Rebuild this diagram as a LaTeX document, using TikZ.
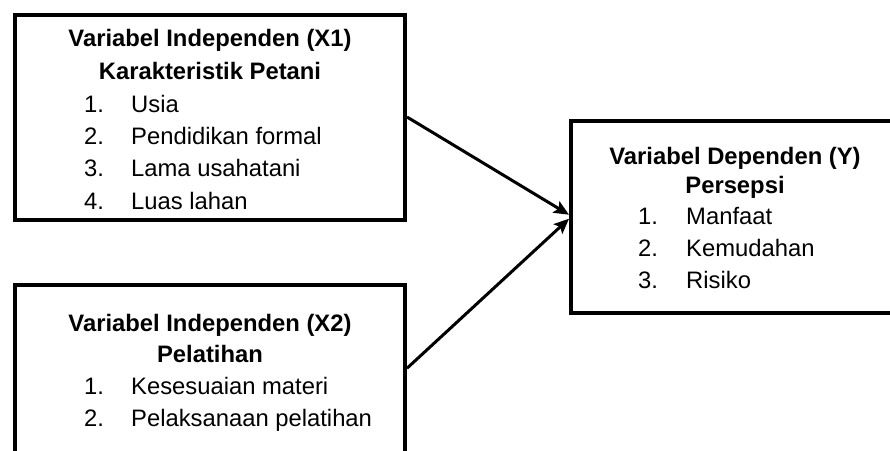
\documentclass[tikz,border=0pt]{standalone}
\usepackage{fontspec}
\setmainfont{Liberation Sans}
\usetikzlibrary{arrows.meta}
\begin{document}
\begin{tikzpicture}[x=1pt,y=-1pt,
  varbox/.style={draw, line width=4pt, rectangle, inner sep=0pt},
  head/.style={anchor=base, inner sep=0pt, font=\fontsize{23.8}{28}\selectfont\bfseries},
  num/.style={anchor=base west, inner sep=0pt, font=\fontsize{23.8}{28}\selectfont},
  itemtext/.style={anchor=base west, inner sep=0pt, font=\fontsize{23.8}{28}\selectfont},
  conn/.style={line width=3pt, -{Stealth[length=15pt,width=13pt,inset=3pt]}}]
\useasboundingbox (0,0) rectangle (890,450);
\clip (0,0) rectangle (890,450);

% boxes
\node[varbox, minimum width=390pt, minimum height=205pt] (box1) at (210,117) {};
\node[varbox, minimum width=390pt, minimum height=185.5pt] (box2) at (210,377.25) {};
\node[varbox, minimum width=329pt, minimum height=192.5pt] (box3) at (735.5,216.75) {};

% X1
\node[head] (h1a) at (210,46.7) {Variabel Independen (X1)};
\node[head] (h1b) at (210,79.5) {Karakteristik Petani};
\node[num] (n11) at (84,112) {1.};
\node[itemtext] (t11) at (131,112) {Usia};
\node[num] (n12) at (84,144.5) {2.};
\node[itemtext] (t12) at (131,144.5) {Pendidikan formal};
\node[num] (n13) at (84,176.8) {3.};
\node[itemtext] (t13) at (131,176.8) {Lama usahatani};
\node[num] (n14) at (84,209) {4.};
\node[itemtext] (t14) at (131,209) {Luas lahan};

% X2
\node[head] (h2a) at (210,331) {Variabel Independen (X2)};
\node[head] (h2b) at (210,362.7) {Pelatihan};
\node[num] (n21) at (84,394.4) {1.};
\node[itemtext] (t21) at (131,394.4) {Kesesuaian materi};
\node[num] (n22) at (84,426) {2.};
\node[itemtext] (t22) at (131,426) {Pelaksanaan pelatihan};

% Y
\node[head] (h3a) at (735,164) {Variabel Dependen (Y)};
\node[head] (h3b) at (735,193) {Persepsi};
\node[num] (n31) at (638,224.5) {1.};
\node[itemtext] (t31) at (686,224.5) {Manfaat};
\node[num] (n32) at (638,256) {2.};
\node[itemtext] (t32) at (686,256) {Kemudahan};
\node[num] (n33) at (638,288) {3.};
\node[itemtext] (t33) at (686,288) {Risiko};

% connectors
\draw[conn] (box1.east) -- ([yshift=2pt]box3.west);
\draw[conn] ([yshift=9pt]box2.east) -- ([yshift=-2pt]box3.west);
\end{tikzpicture}
\end{document}
